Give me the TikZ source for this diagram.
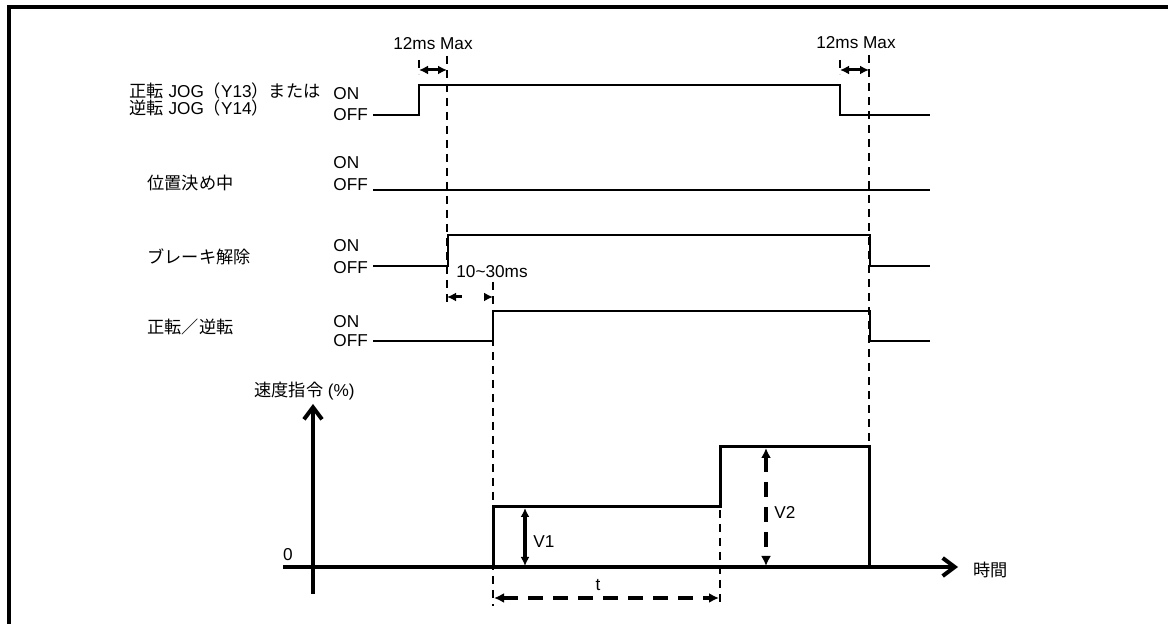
\documentclass[tikz,border=0pt]{standalone}
\usepackage{fontspec}
\setmainfont{Liberation Sans}
\newfontfamily\jpfont{Noto Sans CJK JP}
\newcommand{\jp}[1]{{\jpfont #1}}
\usepackage{tikz}
\usetikzlibrary{arrows.meta}

\begin{document}
\begin{tikzpicture}[x=0.5pt, y=-0.5pt,
    txt/.style={font=\fontsize{8.6}{10}\selectfont, inner sep=0pt},
    sig/.style={line width=1.25pt},
    guide/.style={line width=0.9pt, dash pattern=on 4pt off 3pt},
    dim/.style={line width=1.5pt, {Latex[length=4.5pt,width=4.5pt]}-{Latex[length=4.5pt,width=4.5pt]}},
    bigdim/.style={line width=2pt, dash pattern=on 7.5pt off 5pt,
        {Latex[length=5pt,width=5pt]}-{Latex[length=5pt,width=5pt]}},
    axis/.style={line width=2pt, -{Straight Barb[length=6pt,width=9pt]}}]
    \useasboundingbox (0,0) rectangle (1168,624);

    % 1. Khung
    \draw[line width=2pt] (9,640) -- (9,7) -- (1180,7);

    % 2. Nhãn tín hiệu
    \node[txt, anchor=west] (jogA) at (129,91) {\jp{正転} JOG\jp{（}Y13\jp{）または}};
    \node[txt, anchor=west] (jogB) at (129,108) {\jp{逆転} JOG\jp{（}Y14\jp{）}};
    \node[txt, anchor=west] (pos)  at (147,183) {\jp{位置決め中}};
    \node[txt, anchor=west] (brk)  at (147,257) {\jp{ブレーキ解除}};
    \node[txt, anchor=west] (dir)  at (147,327) {\jp{正転／逆転}};

    \node[txt, anchor=west] (on1)  at (333,94)  {ON};
    \node[txt, anchor=west] (off1) at (333,115) {OFF};
    \node[txt, anchor=west] (on2)  at (333,163) {ON};
    \node[txt, anchor=west] (off2) at (333,185) {OFF};
    \node[txt, anchor=west] (on3)  at (333,246) {ON};
    \node[txt, anchor=west] (off3) at (333,268) {OFF};
    \node[txt, anchor=west] (on4)  at (333,322) {ON};
    \node[txt, anchor=west] (off4) at (333,341) {OFF};

    % 3. Dạng sóng
    \draw[sig] (373,115) -- (419,115) -- (419,85) -- (840,85) -- (840,115) -- (930,115);
    \draw[sig] (373,190) -- (930,190);
    \draw[sig] (373,266) -- (448,266) -- (448,235) -- (870,235) -- (870,266) -- (930,266);
    \draw[sig] (373,341) -- (493,341) -- (493,311) -- (870,311) -- (870,341) -- (930,341);

    % 4. Đường gióng
    \draw[guide] (419,60) -- (419,74);
    \draw[guide] (840,60) -- (840,74);
    \draw[guide] (447,56) -- (447,304);
    \draw[guide] (869,55) -- (869,447);
    \draw[guide] (493,282) -- (493,606);
    \draw[guide] (720,510) -- (720,606);

    % 5. Khoảng thời gian
    \node[txt] (max1) at (433,44) {12ms Max};
    \node[txt] (max2) at (856,43) {12ms Max};
    \draw[dim] (419,70) -- (447,70);
    \draw[dim] (840,70) -- (869,70);
    \node[txt, anchor=west] (dly) at (456,272) {10\textasciitilde30ms};
    \draw[dim, dash pattern=on 3.5pt off 12pt] (447,297) -- (493,297);

    % 6. Trục và lệnh tốc độ
    \draw[axis] (313,594) -- (313,404);
    \draw[axis] (283,567) -- (958,567);
    \node[txt, anchor=west] (vcmd) at (254,391) {\jp{速度指令} (\%)};
    \node[txt] (zero) at (288,555) {0};
    \node[txt, anchor=west] (time) at (973,570) {\jp{時間}};

    \draw[line width=1.5pt] (493,567) -- (493,507) -- (720,507) -- (720,447) -- (869,447) -- (869,567);

    \draw[dim, line width=1.8pt] (525,508) -- (525,566);
    \node[txt, anchor=west] (v1) at (533,542) {V1};
    \draw[bigdim] (766,448) -- (766,566);
    \node[txt, anchor=west] (v2) at (774,512) {V2};
    \draw[bigdim] (494,598) -- (719,598);
    \node[txt] (tlen) at (598,585) {t};
\end{tikzpicture}
\end{document}
